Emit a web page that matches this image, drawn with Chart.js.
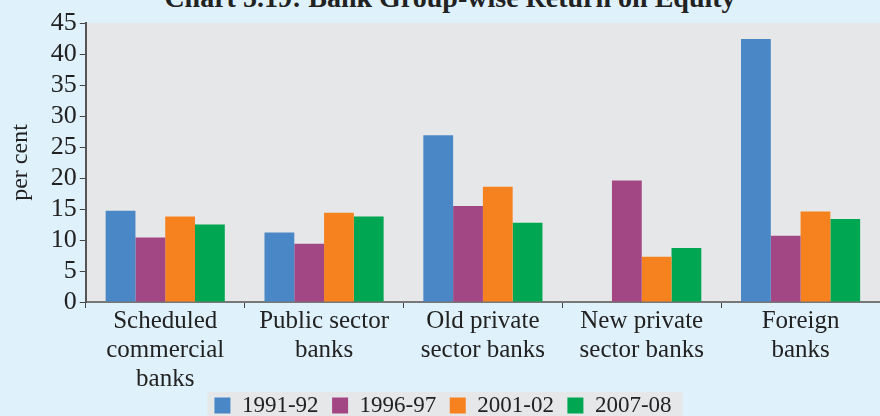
<!DOCTYPE html>
<html><head><meta charset="utf-8">
<script src="https://cdn.jsdelivr.net/npm/chart.js@4/dist/chart.umd.min.js"></script>
<style>
html,body{margin:0;padding:0;background:#dff1fb;overflow:hidden}
#wrap{position:relative;width:880px;height:416px}
#title{position:absolute;left:0;width:900px;top:-18px;text-align:center;font:bold 28px "Liberation Serif",serif;color:#222;white-space:nowrap}
canvas{position:absolute;left:0;top:0}
</style></head><body>
<div id="wrap"><div id="title">Chart 5.19: Bank Group-wise Return on Equity</div><canvas id="c" width="880" height="416"></canvas></div>
<script>
const categories = [["Scheduled","commercial","banks"],["Public sector","banks"],["Old private","sector banks"],["New private","sector banks"],["Foreign","banks"]];
const seriesNames = ["1991-92","1996-97","2001-02","2007-08"];
const v1991 = [14.7, 11.2, 26.9, 0, 42.4];
const v1996 = [10.4, 9.4, 15.5, 19.6, 10.7];
const v2001 = [13.8, 14.4, 18.6, 7.3, 14.6];
const v2007 = [12.5, 13.8, 12.8, 8.7, 13.4];
const yTicks = [0,5,10,15,20,25,30,35,40,45];
const colors = ["#4a87c6","#a34784","#f5821f","#00a651"];
const FONT = "'Liberation Serif', serif";
const GAP = "  ";

const bgPlugin = {
  id:'bg',
  beforeDraw(chart){
    const {ctx, chartArea:a} = chart;
    ctx.save();
    ctx.fillStyle = '#e6e7e9';
    ctx.fillRect(a.left, a.top, a.right-a.left, a.bottom-a.top);
    const lg = chart.legend;
    if (lg && lg.legendHitBoxes && lg.legendHitBoxes.length){
      const hb = lg.legendHitBoxes;
      const l = Math.min(...hb.map(h=>h.left)) - 7;
      const r = Math.max(...hb.map(h=>h.left+h.width)) + 11;
      const t = Math.min(...hb.map(h=>h.top)) - 2;
      ctx.fillRect(l, t, r-l, 416-t);
    }
    ctx.restore();
  }
};

new Chart(document.getElementById('c'), {
  type:'bar',
  data:{
    labels: categories,
    datasets:[
      {label:seriesNames[0], data:v1991, backgroundColor:colors[0]},
      {label:seriesNames[1], data:v1996, backgroundColor:colors[1]},
      {label:seriesNames[2], data:v2001, backgroundColor:colors[2]},
      {label:seriesNames[3], data:v2007, backgroundColor:colors[3]}
    ]
  },
  plugins:[bgPlugin],
  options:{
    responsive:false, animation:false,
    layout:{padding:{top:23,right:0,left:6,bottom:0}},
    datasets:{bar:{categoryPercentage:0.75, barPercentage:1.0}},
    plugins:{
      legend:{position:'bottom', maxHeight:24,
        labels:{font:{family:FONT,size:23,lineHeight:1}, color:'#222', boxWidth:16, boxHeight:16, padding:2,
          generateLabels(chart){
            const items = Chart.defaults.plugins.legend.labels.generateLabels(chart);
            items.forEach((it,i)=>{ it.lineWidth = 0; if (i < items.length-1) it.text = it.text + GAP; });
            return items;
          }}},
      tooltip:{enabled:false}
    },
    scales:{
      x:{
        grid:{display:true, drawOnChartArea:false, drawTicks:true, tickLength:6, color:'#444', offset:true},
        border:{display:true, color:'#777', width:2},
        ticks:{font:{family:FONT,size:25,lineHeight:1.16}, color:'#222', maxRotation:0, autoSkip:false, padding:-1.5}
      },
      y:{
        min:0, max:45,
        afterBuildTicks(ax){ ax.ticks = yTicks.map(v=>({value:v})); },
        grid:{display:true, drawOnChartArea:false, drawTicks:true, tickLength:6, color:'#444'},
        border:{display:true, color:'#555', width:2},
        ticks:{font:{family:FONT,size:26}, color:'#222', padding:3, autoSkip:false},
        title:{display:true, text:'per cent', font:{family:FONT,size:24}, color:'#222', padding:{top:0,bottom:13}}
      }
    }
  }
});
</script>
</body></html>
